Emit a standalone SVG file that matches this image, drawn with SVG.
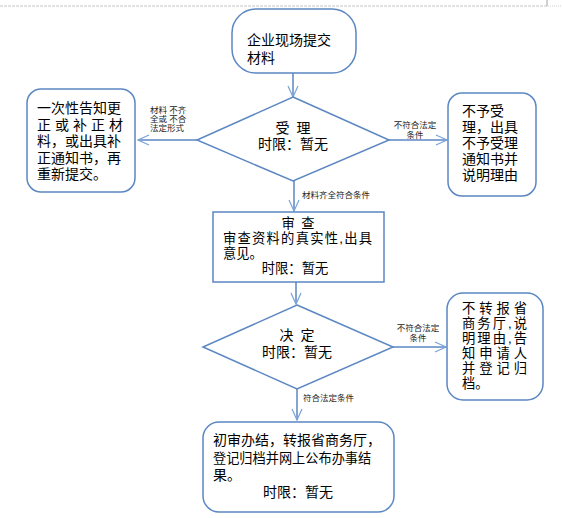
<svg xmlns="http://www.w3.org/2000/svg" width="562" height="518" viewBox="0 0 562 518">
<style>
.shape{fill:#fff;stroke:#5b87c2;stroke-width:1.5}
.t{font-family:"Liberation Sans","Noto Sans CJK SC",sans-serif;font-size:14px;fill:#000}
.m{font-size:13.3px}
.s{font-family:"Liberation Sans","Noto Sans CJK SC",sans-serif;font-size:8.5px;fill:#222}
.c{stroke:#5b87c2;stroke-width:1.5;fill:none;marker-end:url(#ah)}
</style>
<defs>
<marker id="ah" markerWidth="14" markerHeight="12" refX="12" refY="6" orient="auto" markerUnits="userSpaceOnUse">
<path d="M1,1 L12,6 L1,11" fill="none" stroke="#7aa3d6" stroke-width="1.2"/>
</marker>
</defs>
<rect width="562" height="518" fill="#fff"/>
<line x1="0" y1="6" x2="547" y2="6" stroke="#c4c4c4" stroke-width="1" stroke-dasharray="3 1"/>
<line x1="547" y1="0" x2="547" y2="6" stroke="#a0a0a0" stroke-width="1"/>
<line x1="548" y1="6" x2="562" y2="6" stroke="#d0d0d0" stroke-width="1" stroke-dasharray="1 1"/>

<g id="connectors">
<line class="c" x1="293" y1="73" x2="293" y2="97"/>
<line class="c" x1="197" y1="140" x2="138" y2="140"/>
<line class="c" x1="389" y1="140" x2="447" y2="140"/>
<line class="c" x1="294" y1="181" x2="294" y2="211"/>
<line class="c" x1="296" y1="282" x2="296" y2="304"/>
<line class="c" x1="393" y1="347" x2="446" y2="347"/>
<line class="c" x1="297" y1="389" x2="297" y2="420"/>
<text class="s" font-size="8"><tspan x="150" y="113">材料 不齐</tspan><tspan x="150" y="122">全或 不合</tspan><tspan x="150" y="131">法定形式</tspan></text>
<text class="s" text-anchor="middle"><tspan x="415" y="128">不符合法定</tspan><tspan x="415" y="138">条件</tspan></text>
<text class="s" x="302" y="198" font-size="9.5">材料齐全符合条件</text>
<text class="s" text-anchor="middle"><tspan x="418" y="331">不符合法定</tspan><tspan x="418" y="341">条件</tspan></text>
<text class="s" x="303" y="401" font-size="9.5">符合法定条件</text>
</g>

<g id="start">
<rect class="shape" x="232" y="9" width="124" height="64" rx="24"/>
<text class="t"><tspan x="247" y="45">企业现场提交</tspan><tspan x="247" y="63">材料</tspan></text>
</g>

<g id="accept">
<polygon class="shape" points="293,97 389,140 293,181 197,140"/>
<text class="t" text-anchor="middle"><tspan x="293" y="133">受&#8194;理</tspan><tspan x="293" y="149">时限：暂无</tspan></text>
</g>

<g id="left-box">
<rect class="shape" x="27" y="89" width="108" height="103" rx="14"/>
<text class="t"><tspan x="37" y="113">一次性告知更</tspan><tspan x="37" y="130" textLength="86">正或补正材</tspan><tspan x="37" y="146">料，或出具补</tspan><tspan x="37" y="163">正通知书，再</tspan><tspan x="37" y="179">重新提交。</tspan></text>
</g>

<g id="right-box1">
<rect class="shape" x="448" y="93" width="88" height="103" rx="14"/>
<text class="t"><tspan x="462" y="116">不予受</tspan><tspan x="462" y="132">理，出具</tspan><tspan x="462" y="148">不予受理</tspan><tspan x="462" y="164">通知书并</tspan><tspan x="462" y="180">说明理由</tspan></text>
</g>

<g id="review">
<rect class="shape" x="213" y="212" width="171" height="70"/>
<text class="t m"><tspan x="298" y="228" text-anchor="middle">审&#8194;查</tspan><tspan x="223" y="243" textLength="149">审查资料的真实性,出具</tspan><tspan x="223" y="258">意见。</tspan><tspan x="295" y="273" text-anchor="middle">时限：暂无</tspan></text>
</g>

<g id="decide">
<polygon class="shape" points="297,305 393,347 297,389 203,347"/>
<text class="t" text-anchor="middle"><tspan x="297" y="340">决&#8194;定</tspan><tspan x="297" y="357">时限：暂无</tspan></text>
</g>

<g id="right-box2">
<rect class="shape" x="447" y="293" width="96" height="107" rx="16"/>
<text class="t m"><tspan x="462" y="313" textLength="65">不转报省</tspan><tspan x="462" y="328" textLength="65">商务厅,说</tspan><tspan x="462" y="343" textLength="65">明理由,告</tspan><tspan x="462" y="358" textLength="65">知申请人</tspan><tspan x="462" y="373" textLength="65">并登记归</tspan><tspan x="462" y="388">档。</tspan></text>
</g>

<g id="finish">
<rect class="shape" x="203" y="422" width="191" height="90" rx="16"/>
<text class="t"><tspan x="213" y="445">初审办结，转报省商务厅，</tspan><tspan x="213" y="463" font-size="13.2">登记归档并网上公布办事结</tspan><tspan x="213" y="480">果。</tspan><tspan x="298" y="497" text-anchor="middle">时限：暂无</tspan></text>
</g>
</svg>
